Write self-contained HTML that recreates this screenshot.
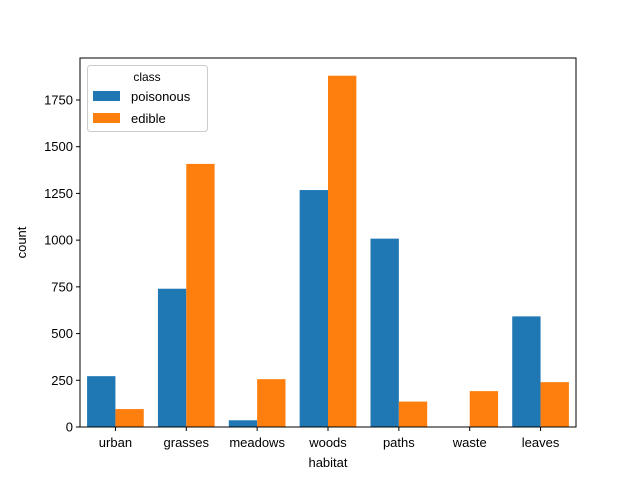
<!DOCTYPE html>
<html><head><meta charset="utf-8"><style>
body{margin:0;background:#fff;}
svg{font-family:"Liberation Sans","DejaVu Sans",sans-serif;}
</style></head><body>
<svg width="640" height="480">
<rect width="640" height="480" fill="#fff"/>
<g id="bars"></g>
<g id="axes"></g>
<g>
<rect x="87.5" y="65.5" width="120" height="66" rx="3" fill="#fff" fill-opacity="0.8" stroke="#ccc"/>
<text x="147" y="81" font-size="12" text-anchor="middle">class</text>
<rect x="93" y="91" width="27" height="10" fill="#1f77b4"/>
<text x="131" y="101" font-size="13">poisonous</text>
<rect x="93" y="113" width="27" height="10" fill="#ff7f0e"/>
<text x="131" y="123" font-size="13">edible</text>
</g>
</svg>
<script>
const categories=["urban","grasses","meadows","woods","paths","waste","leaves"];
const poisonous=[272,740,36,1268,1008,0,592];
const edible=[96,1408,256,1880,136,192,240];
const yTicks=[0,250,500,750,1000,1250,1500,1750];
const L=80,R=576,T=58,B=427,yMax=1974.7;
const ns="http://www.w3.org/2000/svg";
const xc=i=>L+(i+0.5)*(R-L)/categories.length;
const bw=0.4*(R-L)/categories.length;
const y=v=>B-v/yMax*(B-T);
function mk(tag,attrs,parent,txt){const e=document.createElementNS(ns,tag);for(const k in attrs)e.setAttribute(k,attrs[k]);if(txt!==undefined)e.textContent=txt;parent.appendChild(e);return e;}
const bars=document.getElementById('bars'),axes=document.getElementById('axes');
categories.forEach((c,i)=>{
 let r=mk('rect',{x:xc(i)-bw,y:y(poisonous[i]),width:bw,height:B-y(poisonous[i]),fill:'#1f77b4'},bars);
 
 
 r=mk('rect',{x:xc(i),y:y(edible[i]),width:bw,height:B-y(edible[i]),fill:'#ff7f0e'},bars);
 
 
 mk('line',{x1:xc(i),x2:xc(i),y1:B,y2:B+4,stroke:'#000'},axes);
 const t=mk('text',{x:xc(i),y:B+20,'font-size':13,'text-anchor':'middle'},axes,c);
 
 
});
yTicks.forEach(v=>{
 mk('line',{x1:L-4,x2:L,y1:y(v),y2:y(v),stroke:'#000'},axes);
 const t=mk('text',{x:L-7,y:y(v)+4.5,'font-size':13,'text-anchor':'end'},axes,v);
 
 
});
const f=mk('rect',{x:L,y:T,width:R-L,height:B-T,fill:'none',stroke:'#000','stroke-width':1},axes);


let xt=mk('text',{x:(L+R)/2,y:467,'font-size':13,'text-anchor':'middle'},axes,'habitat');


let yt=mk('text',{x:26,y:(T+B)/2,'font-size':13,'text-anchor':'middle',transform:'rotate(-90 26 '+((T+B)/2)+')'},axes,'count');


</script>
</body></html>
